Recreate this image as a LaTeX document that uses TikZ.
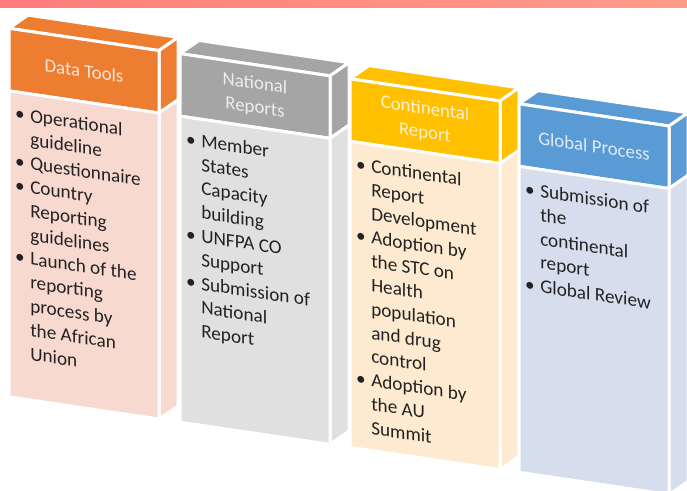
\documentclass[tikz,border=0pt]{standalone}
\usepackage{fontspec}
\setmainfont{Carlito}
\definecolor{bannerL}{RGB}{255,124,124}
\definecolor{bannerR}{RGB}{255,156,136}
\definecolor{c1h}{HTML}{ED7D31}
\definecolor{c1b}{HTML}{F8D9CF}
\definecolor{c1t}{HTML}{FCE4D6}
\definecolor{c2h}{HTML}{A5A5A5}
\definecolor{c2b}{HTML}{E0E0E0}
\definecolor{c2t}{HTML}{EDEDED}
\definecolor{c3h}{HTML}{FFC000}
\definecolor{c3b}{HTML}{FDEAD0}
\definecolor{c3t}{HTML}{FFF2CC}
\definecolor{c4h}{HTML}{5B9BD5}
\definecolor{c4b}{HTML}{D6DEEE}
\definecolor{c4t}{HTML}{DEEBF7}
\definecolor{txt}{HTML}{222222}
\newcommand\hdrfont{\fontsize{18.8}{24}\selectfont}
\newcommand\bodyfont{\fontsize{19.2}{23.8}\selectfont}
\tikzset{
  face/.style={draw=white, line width=3pt, line join=round},
  hdr/.style={face, transform shape, minimum width=150pt, minimum height=62.5pt, inner sep=0pt, align=center, font=\hdrfont},
  bdy/.style={face, transform shape, minimum width=150pt, minimum height=306pt, inner sep=0pt},
  items/.style={transform shape, anchor=north west, inner sep=0pt, text=txt, font=\bodyfont},
}
% #1 name, #2 left x, #3 header colour, #4 body colour, #5 header text colour, #6 header text
\newcommand\pillar[6]{%
  \path[face, fill=#3] (#2,27) -- ++(150,0) -- ++(19,-16) -- ++(-150,0) -- cycle;
  \path[face, fill=#3] (#2+150,27) -- ++(19,-16) -- ++(0,62.5) -- ++(-19,16) -- cycle;
  \path[face, fill=#4] (#2+150,89.5) -- ++(19,-16) -- ++(0,306) -- ++(-19,16) -- cycle;
  \node[hdr, fill=#3, text=#5] (#1h) at (#2+75,58.25) {#6};
  \node[bdy, fill=#4] (#1b) at (#2+75,242.5) {};
}
\begin{document}
\begin{tikzpicture}[x=1pt,y=-1pt]
\useasboundingbox (0,0) rectangle (687,490);
\shade[left color=bannerL, right color=bannerR] (0,0) rectangle (687,7.5);
\begin{scope}[yslant=-0.148]
  \pillar{p1}{9}{c1h}{c1b}{c1t}{Data Tools}
  \pillar{p2}{180}{c2h}{c2b}{c2t}{National\\Reports}
  \pillar{p3}{350}{c3h}{c3b}{c3t}{Continental\\Report}
  \pillar{p4}{519}{c4h}{c4b}{c4t}{Global Process}
  \node[items] (p1t) at (9+6,100.7) {\begin{tabular}{@{}l@{\hspace{5.5pt}}l@{}}
    \textbullet & Operational\\ & guideline\\
    \textbullet & Questionnaire\\
    \textbullet & Country\\ & Reporting\\ & guidelines\\
    \textbullet & Launch of the\\ & reporting\\ & process by\\ & the African\\ & Union
  \end{tabular}};
  \node[items] (p2t) at (180+6,100.7) {\begin{tabular}{@{}l@{\hspace{5.5pt}}l@{}}
    \textbullet & Member\\ & States\\ & Capacity\\ & building\\
    \textbullet & UNFPA CO\\ & Support\\
    \textbullet & Submission of\\ & National\\ & Report
  \end{tabular}};
  \node[items] (p3t) at (350+6,100.7) {\begin{tabular}{@{}l@{\hspace{5.5pt}}l@{}}
    \textbullet & Continental\\ & Report\\ & Development\\
    \textbullet & Adoption by\\ & the STC on\\ & Health\\ & population\\ & and drug\\ & control\\
    \textbullet & Adoption by\\ & the AU\\ & Summit
  \end{tabular}};
  \node[items] (p4t) at (519+6,100.7) {\begin{tabular}{@{}l@{\hspace{5.5pt}}l@{}}
    \textbullet & Submission of\\ & the\\ & continental\\ & report\\
    \textbullet & Global Review
  \end{tabular}};
\end{scope}
\end{tikzpicture}
\end{document}
